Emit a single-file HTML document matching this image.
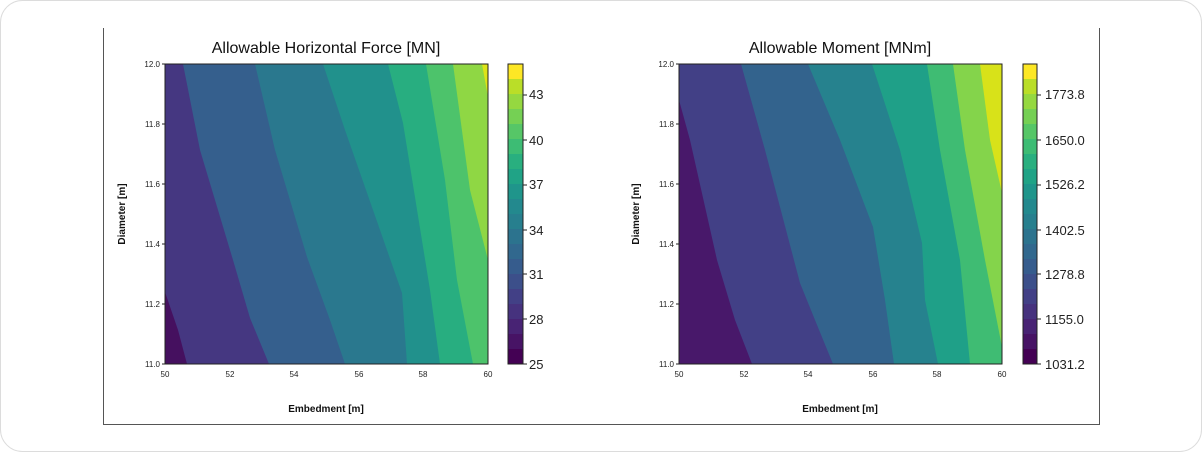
<!DOCTYPE html>
<html><head><meta charset="utf-8"><style>
html,body{margin:0;padding:0;background:#fff;}
svg{display:block;font-family:"Liberation Sans",Arial,sans-serif;}
</style></head><body>
<svg width="1202" height="452" viewBox="0 0 1202 452" xmlns="http://www.w3.org/2000/svg">
<defs>
<linearGradient id="vir" x1="0" y1="1" x2="0" y2="0">
<stop offset="0" stop-color="#440154"/><stop offset="0.05" stop-color="#440154"/>
<stop offset="0.05" stop-color="#471365"/><stop offset="0.1" stop-color="#471365"/>
<stop offset="0.1" stop-color="#482374"/><stop offset="0.15" stop-color="#482374"/>
<stop offset="0.15" stop-color="#46327e"/><stop offset="0.2" stop-color="#46327e"/>
<stop offset="0.2" stop-color="#424086"/><stop offset="0.25" stop-color="#424086"/>
<stop offset="0.25" stop-color="#3c4f8a"/><stop offset="0.3" stop-color="#3c4f8a"/>
<stop offset="0.3" stop-color="#365c8d"/><stop offset="0.35" stop-color="#365c8d"/>
<stop offset="0.35" stop-color="#31688e"/><stop offset="0.4" stop-color="#31688e"/>
<stop offset="0.4" stop-color="#2c738e"/><stop offset="0.45" stop-color="#2c738e"/>
<stop offset="0.45" stop-color="#277f8e"/><stop offset="0.5" stop-color="#277f8e"/>
<stop offset="0.5" stop-color="#23898e"/><stop offset="0.55" stop-color="#23898e"/>
<stop offset="0.55" stop-color="#1f958b"/><stop offset="0.6" stop-color="#1f958b"/>
<stop offset="0.6" stop-color="#20a386"/><stop offset="0.65" stop-color="#20a386"/>
<stop offset="0.65" stop-color="#29af7f"/><stop offset="0.7" stop-color="#29af7f"/>
<stop offset="0.7" stop-color="#3dbc74"/><stop offset="0.75" stop-color="#3dbc74"/>
<stop offset="0.75" stop-color="#56c667"/><stop offset="0.8" stop-color="#56c667"/>
<stop offset="0.8" stop-color="#75d054"/><stop offset="0.85" stop-color="#75d054"/>
<stop offset="0.85" stop-color="#95d840"/><stop offset="0.9" stop-color="#95d840"/>
<stop offset="0.9" stop-color="#bade28"/><stop offset="0.95" stop-color="#bade28"/>
<stop offset="0.95" stop-color="#fde725"/><stop offset="1" stop-color="#fde725"/>
</linearGradient>
</defs>
<rect x="0.5" y="0.5" width="1201" height="451" rx="22" fill="#fff" stroke="#dcdcdc"/>
<path d="M103.5 28 V424.5 H1099.5 V28" fill="none" stroke="#555" stroke-width="1"/>

<!-- LEFT PLOT -->
<g>
<rect x="165" y="64" width="323" height="300" fill="#45105f"/>
<path d="M165 64 H488 V364 H187 L178 330 L165 292 Z" fill="#453781"/>
<path d="M183 64 H488 V364 H269 L250 318 L233 260 L200 150 Z" fill="#355f8d"/>
<path d="M255 64 H488 V364 H345 L330 320 L307 257 L275 150 Z" fill="#2a788e"/>
<path d="M323 64 H488 V364 H407 L402 293 L380 230 L345 130 Z" fill="#21918c"/>
<path d="M388 64 H488 V364 H440 L430 290 L403 123 Z" fill="#28ae80"/>
<path d="M426 64 H488 V364 H473 L457 280 L445 180 Z" fill="#4dc36b"/>
<path d="M453 64 H488 V260 L470 190 Z" fill="#8fd744"/>
<path d="M482 64 H488 V97 Z" fill="#dde318"/>
<rect x="165" y="64" width="323" height="300" fill="none" stroke="#222" stroke-width="1"/>
<text x="326" y="53" font-size="16" text-anchor="middle" fill="#111">Allowable Horizontal Force [MN]</text>
<g font-size="8" fill="#222" text-anchor="end">
<text x="160" y="67">12.0</text><text x="160" y="127">11.8</text><text x="160" y="187">11.6</text>
<text x="160" y="247">11.4</text><text x="160" y="307">11.2</text><text x="160" y="367">11.0</text>
</g>
<g stroke="#222"><line x1="162" x2="165" y1="64" y2="64"/><line x1="162" x2="165" y1="124" y2="124"/><line x1="162" x2="165" y1="184" y2="184"/><line x1="162" x2="165" y1="244" y2="244"/><line x1="162" x2="165" y1="304" y2="304"/><line x1="162" x2="165" y1="364" y2="364"/></g>
<g font-size="8" fill="#222" text-anchor="middle">
<text x="165" y="377">50</text><text x="230" y="377">52</text><text x="294" y="377">54</text>
<text x="359" y="377">56</text><text x="423" y="377">58</text><text x="488" y="377">60</text>
</g>
<text x="326" y="412" font-size="10" font-weight="bold" text-anchor="middle" fill="#111">Embedment [m]</text>
<text transform="translate(125,214) rotate(-90)" font-size="10" font-weight="bold" text-anchor="middle" fill="#111">Diameter [m]</text>
<rect x="508" y="64" width="15" height="300" fill="url(#vir)" stroke="#222" stroke-width="1"/>
<g stroke="#222"><line x1="523" x2="527" y1="95" y2="95"/><line x1="523" x2="527" y1="140" y2="140"/><line x1="523" x2="527" y1="185" y2="185"/><line x1="523" x2="527" y1="230" y2="230"/><line x1="523" x2="527" y1="274" y2="274"/><line x1="523" x2="527" y1="319" y2="319"/><line x1="523" x2="527" y1="364" y2="364"/></g>
<g font-size="13" fill="#222">
<text x="529" y="99">43</text><text x="529" y="145">40</text><text x="529" y="189">37</text>
<text x="529" y="235">34</text><text x="529" y="279">31</text><text x="529" y="324">28</text><text x="529" y="369">25</text>
</g>
</g>

<!-- RIGHT PLOT -->
<g>
<rect x="679" y="64" width="323" height="300" fill="#48186a"/>
<path d="M679 64 H1002 V364 H752 L735 320 L717 260 L690 140 L679 100 Z" fill="#424086"/>
<path d="M741 64 H1002 V364 H833 L815 320 L800 283 L765 150 Z" fill="#33638d"/>
<path d="M808 64 H1002 V364 H894 L885 300 L873 227 L840 140 Z" fill="#26828e"/>
<path d="M872 64 H1002 V364 H938 L925 300 L922 243 L900 150 Z" fill="#1fa088"/>
<path d="M927 64 H1002 V364 H970 L960 260 L940 150 Z" fill="#3fbc73"/>
<path d="M953 64 H1002 V347 L985 260 L965 150 Z" fill="#84d44b"/>
<path d="M980 64 H1002 V193 L990 140 Z" fill="#d8e219"/>
<rect x="679" y="64" width="323" height="300" fill="none" stroke="#222" stroke-width="1"/>
<text x="840" y="53" font-size="16" text-anchor="middle" fill="#111">Allowable Moment [MNm]</text>
<g font-size="8" fill="#222" text-anchor="end">
<text x="674" y="67">12.0</text><text x="674" y="127">11.8</text><text x="674" y="187">11.6</text>
<text x="674" y="247">11.4</text><text x="674" y="307">11.2</text><text x="674" y="367">11.0</text>
</g>
<g stroke="#222"><line x1="676" x2="679" y1="64" y2="64"/><line x1="676" x2="679" y1="124" y2="124"/><line x1="676" x2="679" y1="184" y2="184"/><line x1="676" x2="679" y1="244" y2="244"/><line x1="676" x2="679" y1="304" y2="304"/><line x1="676" x2="679" y1="364" y2="364"/></g>
<g font-size="8" fill="#222" text-anchor="middle">
<text x="679" y="377">50</text><text x="744" y="377">52</text><text x="808" y="377">54</text>
<text x="873" y="377">56</text><text x="937" y="377">58</text><text x="1002" y="377">60</text>
</g>
<text x="840" y="412" font-size="10" font-weight="bold" text-anchor="middle" fill="#111">Embedment [m]</text>
<text transform="translate(639,214) rotate(-90)" font-size="10" font-weight="bold" text-anchor="middle" fill="#111">Diameter [m]</text>
<rect x="1023" y="64" width="14" height="300" fill="url(#vir)" stroke="#222" stroke-width="1"/>
<g stroke="#222"><line x1="1037" x2="1041" y1="95" y2="95"/><line x1="1037" x2="1041" y1="140" y2="140"/><line x1="1037" x2="1041" y1="185" y2="185"/><line x1="1037" x2="1041" y1="230" y2="230"/><line x1="1037" x2="1041" y1="274" y2="274"/><line x1="1037" x2="1041" y1="319" y2="319"/><line x1="1037" x2="1041" y1="364" y2="364"/></g>
<g font-size="13" fill="#222">
<text x="1045" y="99">1773.8</text><text x="1045" y="145">1650.0</text><text x="1045" y="189">1526.2</text>
<text x="1045" y="235">1402.5</text><text x="1045" y="279">1278.8</text><text x="1045" y="324">1155.0</text><text x="1045" y="369">1031.2</text>
</g>
</g>
</svg>
</body></html>
